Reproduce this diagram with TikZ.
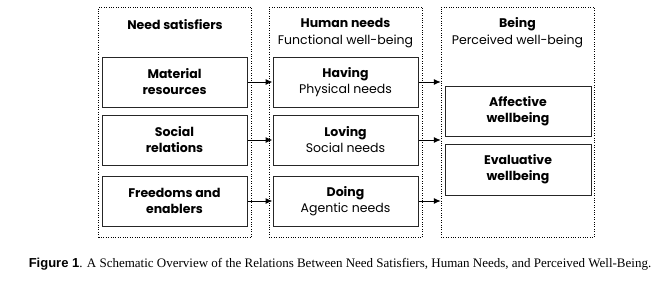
\documentclass[tikz,border=0pt]{standalone}
\usepackage{fontspec}
\setmainfont{Poppins}
\newfontfamily\capfont{Liberation Serif}
\newfontfamily\figfont{Liberation Sans}
\usetikzlibrary{arrows.meta,positioning,calc}

\begin{document}
\begin{tikzpicture}[
  x=1pt, y=-1pt,
  col/.style={rectangle, draw, dotted, minimum width=153pt, minimum height=230pt},
  box/.style={rectangle, draw=black!85, line width=1pt, minimum width=145pt,
    minimum height=50pt, align=center, font=\fontsize{12.5}{16}\selectfont, inner sep=0pt},
  head/.style={align=center, font=\fontsize{12.5}{17}\selectfont},
  arr/.style={-{Latex[length=7pt,width=6pt]}, line width=1pt}
]
\useasboundingbox (0,0) rectangle (663,281);

% Columns
\node[col] (sat) at (175,122) {};
\node[col] (need) at (345.5,122) {};
\node[col] (being) at (517.5,122) {};

% Headers
\node[head] at (175,25) {\textbf{Need satisfiers}};
\node[head] at (345.5,33) {\textbf{Human needs}\\Functional well-being};
\node[head] at (517.5,33) {\textbf{Being}\\Perceived well-being};

% Need satisfiers
\node[box] (mat) at (174.5,82)  {\textbf{Material}\\\textbf{resources}};
\node[box] (soc) at (174.5,140) {\textbf{Social}\\\textbf{relations}};
\node[box] (free) at (174.5,201) {\textbf{Freedoms and}\\\textbf{enablers}};

% Human needs
\node[box] (have) at (345.5,82)  {\textbf{Having}\\Physical needs};
\node[box] (love) at (345.5,140) {\textbf{Loving}\\Social needs};
\node[box] (do) at (345.5,201) {\textbf{Doing}\\Agentic needs};

% Being
\node[box, minimum width=146pt] (aff) at (518,111) {\textbf{Affective}\\\textbf{wellbeing}};
\node[box, minimum width=146pt, minimum height=51pt] (eval) at (518,169.5) {\textbf{Evaluative}\\\textbf{wellbeing}};

% Arrows
\draw[arr] (mat) -- (have);
\draw[arr] (soc) -- (love);
\draw[arr] (free) -- (do);
\draw[arr] (have) -- (have -| being.west);
\draw[arr] (love) -- (love -| being.west);
\draw[arr] (do) -- (do -| being.west);

% Caption
\node[font=\capfont\fontsize{13}{15}\selectfont] (cap) at (340,264)
  {{\figfont\bfseries Figure 1}. A Schematic Overview of the Relations Between Need Satisfiers, Human Needs, and Perceived Well-Being.};
\end{tikzpicture}
\end{document}
